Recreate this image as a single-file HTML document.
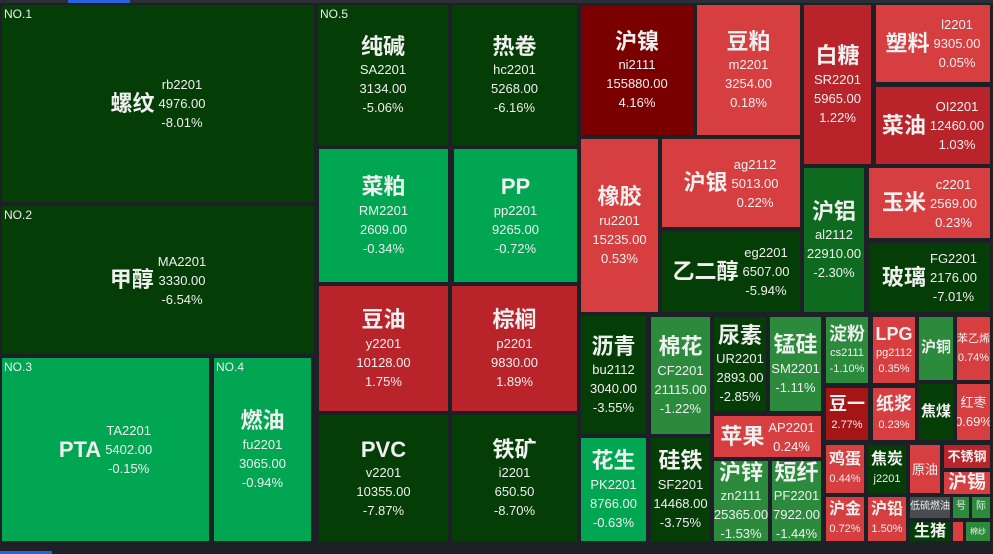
<!DOCTYPE html>
<html><head><meta charset="utf-8"><style>
*{margin:0;padding:0;box-sizing:border-box}
body{width:993px;height:554px;background:#1d2026;position:relative;overflow:hidden;font-family:"Liberation Sans","Noto Sans CJK SC",sans-serif;color:#f0f0f0}
.t{position:absolute;display:flex;align-items:center;justify-content:center;overflow:hidden;text-align:center;line-height:1.45}
.v{flex-direction:column}
.n{font-weight:bold;font-size:22px;line-height:1.25}
.d{font-size:13px;line-height:19px}
.s{margin-left:4px}
.no{position:absolute;left:2px;top:1px;font-size:12px}
.dg{background:#043d05}.bg{background:#00a651}.mg{background:#2b8a3c}.mg2{background:#0e6a1f}
.r{background:#d63e40}.r2{background:#b8242a}.dr{background:#7a0000}.dr2{background:#a51515}
</style></head><body>
<div style="position:absolute;left:0;top:0;width:993px;height:3px;background:#2a2e35"></div>
<div style="position:absolute;left:68px;top:0;width:62px;height:3px;background:#2a62d8"></div>
<div style="position:absolute;left:0;top:551px;width:52px;height:3px;background:#2a62d8"></div>

<div class="t dg" style="left:2px;top:5px;width:312px;height:197px"><span class="no">NO.1</span><span class="n">螺纹</span><div class="d s">rb2201<br>4976.00<br>-8.01%</div></div>
<div class="t dg" style="left:2px;top:206px;width:312px;height:148px"><span class="no">NO.2</span><span class="n">甲醇</span><div class="d s">MA2201<br>3330.00<br>-6.54%</div></div>
<div class="t bg" style="left:2px;top:358px;width:207px;height:183px"><span class="no">NO.3</span><span class="n">PTA</span><div class="d s">TA2201<br>5402.00<br>-0.15%</div></div>
<div class="t bg v" style="left:214px;top:358px;width:97px;height:183px"><span class="no">NO.4</span><span class="n">燃油</span><div class="d">fu2201<br>3065.00<br>-0.94%</div></div>

<div class="t dg v" style="left:318px;top:5px;width:130px;height:140px"><span class="no">NO.5</span><span class="n">纯碱</span><div class="d">SA2201<br>3134.00<br>-5.06%</div></div>
<div class="t dg v" style="left:452px;top:5px;width:125px;height:140px"><span class="n">热卷</span><div class="d">hc2201<br>5268.00<br>-6.16%</div></div>
<div class="t bg v" style="left:319px;top:149px;width:129px;height:133px"><span class="n">菜粕</span><div class="d">RM2201<br>2609.00<br>-0.34%</div></div>
<div class="t bg v" style="left:454px;top:149px;width:123px;height:133px"><span class="n">PP</span><div class="d">pp2201<br>9265.00<br>-0.72%</div></div>
<div class="t r2 v" style="left:319px;top:286px;width:129px;height:125px"><span class="n">豆油</span><div class="d">y2201<br>10128.00<br>1.75%</div></div>
<div class="t r2 v" style="left:452px;top:286px;width:125px;height:125px"><span class="n">棕榈</span><div class="d">p2201<br>9830.00<br>1.89%</div></div>
<div class="t dg v" style="left:319px;top:415px;width:129px;height:126px"><span class="n">PVC</span><div class="d">v2201<br>10355.00<br>-7.87%</div></div>
<div class="t dg v" style="left:452px;top:415px;width:125px;height:126px"><span class="n">铁矿</span><div class="d">i2201<br>650.50<br>-8.70%</div></div>

<div class="t dr v" style="left:581px;top:5px;width:112px;height:130px"><span class="n">沪镍</span><div class="d">ni2111<br>155880.00<br>4.16%</div></div>
<div class="t r v" style="left:697px;top:5px;width:103px;height:130px"><span class="n">豆粕</span><div class="d">m2201<br>3254.00<br>0.18%</div></div>
<div class="t r2 v" style="left:804px;top:5px;width:67px;height:159px"><span class="n">白糖</span><div class="d">SR2201<br>5965.00<br>1.22%</div></div>
<div class="t r" style="left:876px;top:5px;width:114px;height:77px"><span class="n">塑料</span><div class="d s">l2201<br>9305.00<br>0.05%</div></div>
<div class="t r2" style="left:876px;top:87px;width:114px;height:77px"><span class="n">菜油</span><div class="d s">OI2201<br>12460.00<br>1.03%</div></div>
<div class="t r v" style="left:581px;top:139px;width:77px;height:173px"><span class="n">橡胶</span><div class="d">ru2201<br>15235.00<br>0.53%</div></div>
<div class="t r" style="left:662px;top:139px;width:138px;height:88px"><span class="n">沪银</span><div class="d s">ag2112<br>5013.00<br>0.22%</div></div>
<div class="t dg" style="left:662px;top:231px;width:138px;height:81px"><span class="n">乙二醇</span><div class="d s">eg2201<br>6507.00<br>-5.94%</div></div>
<div class="t mg2 v" style="left:804px;top:168px;width:60px;height:144px"><span class="n">沪铝</span><div class="d">al2112<br>22910.00<br>-2.30%</div></div>
<div class="t r" style="left:869px;top:168px;width:121px;height:70px"><span class="n">玉米</span><div class="d s">c2201<br>2569.00<br>0.23%</div></div>
<div class="t dg" style="left:869px;top:243px;width:121px;height:69px"><span class="n">玻璃</span><div class="d s">FG2201<br>2176.00<br>-7.01%</div></div>

<div class="t dg v" style="left:581px;top:316px;width:65px;height:118px"><span class="n">沥青</span><div class="d">bu2112<br>3040.00<br>-3.55%</div></div>
<div class="t bg v" style="left:581px;top:438px;width:65px;height:103px"><span class="n">花生</span><div class="d">PK2201<br>8766.00<br>-0.63%</div></div>
<div class="t mg v" style="left:651px;top:317px;width:59px;height:117px"><span class="n">棉花</span><div class="d">CF2201<br>21115.00<br>-1.22%</div></div>
<div class="t dg v" style="left:651px;top:438px;width:59px;height:103px"><span class="n">硅铁</span><div class="d">SF2201<br>14468.00<br>-3.75%</div></div>
<div class="t dg v" style="left:714px;top:317px;width:52px;height:94px"><span class="n">尿素</span><div class="d">UR2201<br>2893.00<br>-2.85%</div></div>
<div class="t mg v" style="left:770px;top:317px;width:51px;height:94px"><span class="n">锰硅</span><div class="d">SM2201<br>-1.11%</div></div>
<div class="t r" style="left:714px;top:416px;width:107px;height:41px"><span class="n">苹果</span><div class="d s">AP2201<br>0.24%</div></div>
<div class="t mg v" style="left:714px;top:461px;width:54px;height:80px"><span class="n">沪锌</span><div class="d">zn2111<br>25365.00<br>-1.53%</div></div>
<div class="t mg v" style="left:772px;top:461px;width:49px;height:80px"><span class="n">短纤</span><div class="d">PF2201<br>7922.00<br>-1.44%</div></div>
<div class="t mg v" style="left:826px;top:317px;width:42px;height:66px"><span class="n" style="font-size:18px">淀粉</span><div class="d" style="font-size:11px;line-height:16px">cs2111<br>-1.10%</div></div>
<div class="t r v" style="left:873px;top:317px;width:42px;height:66px"><span class="n" style="font-size:18px">LPG</span><div class="d" style="font-size:11px;line-height:16px">pg2112<br>0.35%</div></div>
<div class="t mg v" style="left:919px;top:317px;width:34px;height:63px"><span class="n" style="font-size:15px">沪铜</span></div>
<div class="t r v" style="left:957px;top:317px;width:33px;height:63px"><span class="d" style="font-size:11px">苯乙烯<br>0.74%</span></div>
<div class="t dr2 v" style="left:826px;top:388px;width:42px;height:52px"><span class="n" style="font-size:18px">豆一</span><div class="d" style="font-size:11px">2.77%</div></div>
<div class="t r v" style="left:873px;top:388px;width:42px;height:52px"><span class="n" style="font-size:18px">纸浆</span><div class="d" style="font-size:11px">0.23%</div></div>
<div class="t dg v" style="left:919px;top:384px;width:34px;height:56px"><span class="n" style="font-size:15px">焦煤</span></div>
<div class="t r v" style="left:957px;top:384px;width:33px;height:56px"><span class="d" style="font-size:13px">红枣<br>0.69%</span></div>
<div class="t r v" style="left:826px;top:445px;width:38px;height:48px"><span class="n" style="font-size:16px">鸡蛋</span><div class="d" style="font-size:11px">0.44%</div></div>
<div class="t dg v" style="left:868px;top:445px;width:38px;height:48px"><span class="n" style="font-size:16px">焦炭</span><div class="d" style="font-size:11px">j2201</div></div>
<div class="t r v" style="left:910px;top:445px;width:30px;height:48px"><span class="d" style="font-size:13px">原油</span></div>
<div class="t r2" style="left:944px;top:445px;width:46px;height:23px"><span class="d" style="font-size:13px;font-weight:bold;white-space:nowrap">不锈钢</span></div>
<div class="t r" style="left:944px;top:472px;width:46px;height:22px"><span class="n" style="font-size:19px;white-space:nowrap">沪锡</span></div>
<div class="t r v" style="left:826px;top:497px;width:38px;height:44px"><span class="n" style="font-size:16px">沪金</span><div class="d" style="font-size:11px">0.72%</div></div>
<div class="t r v" style="left:868px;top:497px;width:38px;height:44px"><span class="n" style="font-size:16px">沪铅</span><div class="d" style="font-size:11px">1.50%</div></div>
<div class="t" style="left:910px;top:497px;width:40px;height:21px;background:#4a4d50"><span style="font-size:10px;white-space:nowrap">低硫燃油</span></div>
<div class="t mg" style="left:953px;top:497px;width:16px;height:21px"><span style="font-size:10px">号</span></div>
<div class="t mg" style="left:972px;top:497px;width:18px;height:21px"><span style="font-size:10px">际</span></div>
<div class="t dg" style="left:910px;top:522px;width:40px;height:19px"><span class="n" style="font-size:16px">生猪</span></div>
<div class="t r" style="left:953px;top:522px;width:10px;height:19px"></div>
<div class="t mg" style="left:966px;top:522px;width:24px;height:19px"><span style="font-size:8px">棉纱</span></div>
</body></html>
